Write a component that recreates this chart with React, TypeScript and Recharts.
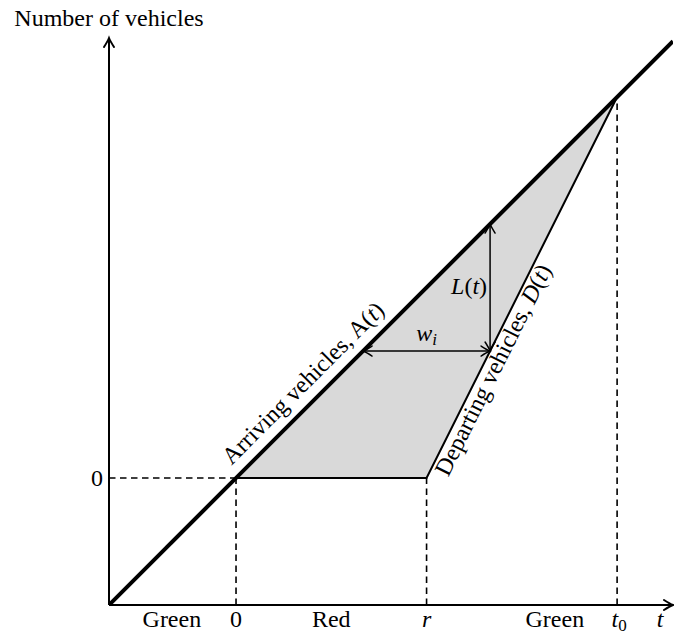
import { ComposedChart, Line, Area, XAxis, YAxis, ReferenceLine, ReferenceDot } from "recharts";

// cumulative vehicle counts (one unit = one time step)
const arrivalTimes = [-4, 13.76];
const arrivalCounts = [-4, 13.76];
const departureTimes = [0, 6, 12];
const departureCounts = [0, 0, 12];
const queueTimes = [0, 6, 12];
const queueLow = [0, 0, 12];
const queueHigh = [0, 6, 12];

const redStart = 0;
const redEnd = 6; // r
const clearTime = 12; // t0

// L(t) at t = 8, w_i at count 4
const lagTime = 8;
const lagRange = [4, 8];
const waitLevel = 4;
const waitRange = [4, 8];

const phaseNames = ["Green", "Red", "Green"];
const phaseCenters = [-2.02, 3.0, 10.04];
const tickNames = ["0", "r", "t0"];
const tickValues = [0, 6, 12];

const X_DOMAIN = [-4, 13.76];
const Y_DOMAIN = [-4, 13.86];

const FONT = "Liberation Serif";
const GRAY = "#d9d9d9";

const arrivalRows = arrivalTimes.map((t, i) => ({ t, a: arrivalCounts[i] }));
const departureRows = departureTimes.map((t, i) => ({ t, d: departureCounts[i] }));
const queueRows = queueTimes.map((t, i) => ({ t, band: [queueLow[i], queueHigh[i]] }));

function head(tx: number, ty: number, ux: number, uy: number, len: number, half: number) {
  // open arrow head, tip at (tx, ty), pointing along (ux, uy)
  const px = -uy;
  const py = ux;
  const bx = tx - ux * len;
  const by = ty - uy * len;
  const cx = tx - ux * len * 0.35;
  const cy = ty - uy * len * 0.35;
  return (
    `M${bx + px * half},${by + py * half} Q${cx + px * half * 0.25},${cy + py * half * 0.25} ${tx},${ty} ` +
    `Q${cx - px * half * 0.25},${cy - py * half * 0.25} ${bx - px * half},${by - py * half}`
  );
}

function arrowShape(both: boolean, width: number, len: number, half: number) {
  return (p: any) => {
    const { x1, y1, x2, y2 } = p;
    const dx = x2 - x1;
    const dy = y2 - y1;
    const n = Math.hypot(dx, dy) || 1;
    const ux = dx / n;
    const uy = dy / n;
    return (
      <g>
        <line x1={x1} y1={y1} x2={x2} y2={y2} stroke="#000" strokeWidth={width} />
        <path d={head(x2, y2, ux, uy, len, half)} fill="none" stroke="#000" strokeWidth={width} strokeLinecap="round" />
        {both && (
          <path d={head(x1, y1, -ux, -uy, len, half)} fill="none" stroke="#000" strokeWidth={width} strokeLinecap="round" />
        )}
      </g>
    );
  };
}

function label(content: any, dx: number, dy: number, anchor: string, angle = 0) {
  return (p: any) => (
    <text
      x={p.cx + dx}
      y={p.cy + dy}
      textAnchor={anchor}
      fill="#000"
      style={{ fontFamily: FONT, fontSize: 24 }}
      transform={angle ? `rotate(${angle} ${p.cx} ${p.cy})` : undefined}
    >
      {content}
    </text>
  );
}

const it = (s: string) => <tspan fontStyle="italic">{s}</tspan>;

function tickContent(name: string) {
  if (name === "r") return it("r");
  if (name === "t0")
    return (
      <>
        {it("t")}
        <tspan style={{ fontSize: 17 }} dy={4}>0</tspan>
      </>
    );
  return name;
}

export default function App() {
  return (
    <div style={{ position: "absolute", left: 0, top: 0, background: "#fff" }}>
      <ComposedChart width={674} height={633} margin={{ top: 38, right: 1, bottom: 28, left: 109 }}>
        <XAxis type="number" dataKey="t" domain={X_DOMAIN} allowDataOverflow hide />
        <YAxis type="number" domain={Y_DOMAIN} allowDataOverflow hide />

        <Area
          data={queueRows}
          dataKey="band"
          type="linear"
          stroke="none"
          fill={GRAY}
          fillOpacity={1}
          isAnimationActive={false}
        />

        {/* dashed guides */}
        <ReferenceLine
          segment={[{ x: X_DOMAIN[0], y: 0 }, { x: redStart, y: 0 }]}
          stroke="#000"
          strokeWidth={1.6}
          strokeDasharray="6.5 4.5"
          ifOverflow="visible"
        />
        {[redStart, redEnd].map((v) => (
          <ReferenceLine
            key={v}
            segment={[{ x: v, y: Y_DOMAIN[0] }, { x: v, y: 0 }]}
            stroke="#000"
            strokeWidth={1.6}
            strokeDasharray="6.5 4.5"
            ifOverflow="visible"
          />
        ))}
        <ReferenceLine
          segment={[{ x: clearTime, y: Y_DOMAIN[0] }, { x: clearTime, y: clearTime }]}
          stroke="#000"
          strokeWidth={1.6}
          strokeDasharray="6.5 4.5"
          ifOverflow="visible"
        />

        <Line
          data={departureRows}
          dataKey="d"
          type="linear"
          stroke="#000"
          strokeWidth={2}
          dot={false}
          activeDot={false}
          isAnimationActive={false}
        />
        <Line
          data={arrivalRows}
          dataKey="a"
          type="linear"
          stroke="#000"
          strokeWidth={4}
          dot={false}
          activeDot={false}
          isAnimationActive={false}
        />

        {/* axes */}
        <ReferenceLine
          segment={[{ x: X_DOMAIN[0], y: Y_DOMAIN[0] }, { x: X_DOMAIN[0], y: Y_DOMAIN[1] }]}
          ifOverflow="visible"
          shape={arrowShape(false, 2, 9, 5)}
        />
        <ReferenceLine
          segment={[{ x: X_DOMAIN[0], y: Y_DOMAIN[0] }, { x: X_DOMAIN[1], y: Y_DOMAIN[0] }]}
          ifOverflow="visible"
          shape={arrowShape(false, 2, 9, 5)}
        />

        {/* L(t) and w_i */}
        <ReferenceLine
          segment={[{ x: lagTime, y: lagRange[0] }, { x: lagTime, y: lagRange[1] }]}
          ifOverflow="visible"
          shape={arrowShape(true, 1.5, 9, 5)}
        />
        <ReferenceLine
          segment={[{ x: waitRange[0], y: waitLevel }, { x: waitRange[1], y: waitLevel }]}
          ifOverflow="visible"
          shape={arrowShape(true, 1.5, 9, 5)}
        />

        {/* texts */}
        <ReferenceDot
          x={X_DOMAIN[0]}
          y={Y_DOMAIN[1]}
          r={0}
          ifOverflow="visible"
          shape={label("Number of vehicles", 0, -12, "middle")}
        />
        <ReferenceDot x={X_DOMAIN[0]} y={0} r={0} ifOverflow="visible" shape={label("0", -6, 8, "end")} />
        {phaseNames.map((n, i) => (
          <ReferenceDot
            key={"p" + i}
            x={phaseCenters[i]}
            y={Y_DOMAIN[0]}
            r={0}
            ifOverflow="visible"
            shape={label(n, 0, 22, "middle")}
          />
        ))}
        {tickNames.map((n, i) => (
          <ReferenceDot
            key={"k" + i}
            x={tickValues[i]}
            y={Y_DOMAIN[0]}
            r={0}
            ifOverflow="visible"
            shape={label(tickContent(n), n === "t0" ? 2 : 0, 22, "middle")}
          />
        ))}
        <ReferenceDot x={13.35} y={Y_DOMAIN[0]} r={0} ifOverflow="visible" shape={label(it("t"), 0, 22, "middle")} />

        <ReferenceDot
          x={2.55}
          y={2.55}
          r={0}
          ifOverflow="visible"
          shape={label(<>Arriving vehicles, A({it("t")})</>, 0, -12, "middle", -45)}
        />
        <ReferenceDot
          x={7.78}
          y={3.56}
          r={0}
          ifOverflow="visible"
          shape={label(<>Departing vehicles, {it("D")}({it("t")})</>, 0, 19, "middle", -63.5)}
        />
        <ReferenceDot
          x={lagTime}
          y={(lagRange[0] + lagRange[1]) / 2}
          r={0}
          ifOverflow="visible"
          shape={label(<>{it("L")}({it("t")})</>, -3, 6, "end")}
        />
        <ReferenceDot
          x={(waitRange[0] + waitRange[1]) / 2}
          y={waitLevel}
          r={0}
          ifOverflow="visible"
          shape={label(
            <>
              {it("w")}
              <tspan fontStyle="italic" style={{ fontSize: 17 }} dy={4}>i</tspan>
            </>,
            0,
            -10,
            "middle"
          )}
        />
      </ComposedChart>
    </div>
  );
}
